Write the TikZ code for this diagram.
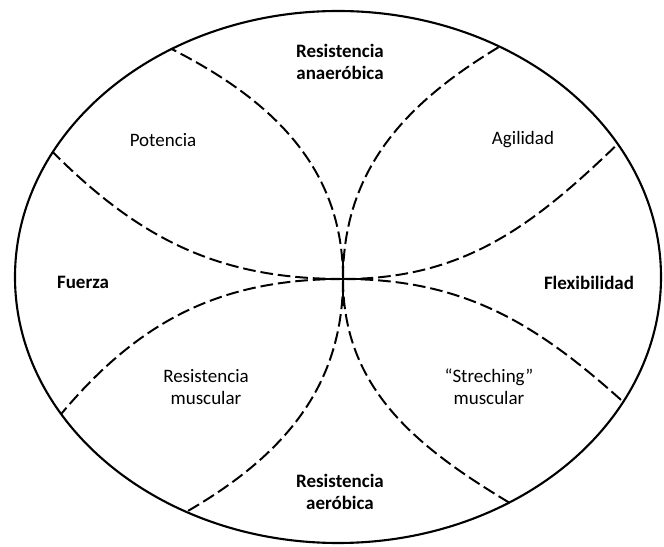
\documentclass[tikz,border=0pt]{standalone}
\usepackage{fontspec}
\setmainfont{Carlito}
\usetikzlibrary{calc}
\begin{document}
\begin{tikzpicture}[x=0.025cm, y=0.025cm,
  rim/.style={line width=1.5pt},
  divider/.style={line width=1.4pt, dash pattern=on 9pt off 3.5pt},
  lbl/.style={align=center, font=\fontsize{13.5}{15.5}\selectfont},
  blbl/.style={align=center, font=\fontsize{13.5}{15.5}\selectfont\bfseries}]
  \useasboundingbox (0,0) rectangle (664,546);

  % outer boundary and meeting point of the dividers
  \coordinate (o) at (338,269);
  \coordinate (c) at (343,267);
  \draw[rim] (o) ellipse [x radius=323, y radius=266];

  % points where the dividers meet the boundary
  \coordinate (tl) at ($(o)+(121:323 and 266)$);
  \coordinate (tr) at ($(o)+(60:323 and 266)$);
  \coordinate (lu) at ($(o)+(152:323 and 266)$);
  \coordinate (ll) at ($(o)+(211:323 and 266)$);
  \coordinate (ru) at ($(o)+(30:323 and 266)$);
  \coordinate (rl) at ($(o)+(-28:323 and 266)$);
  \coordinate (bl) at ($(o)+(242:323 and 266)$);
  \coordinate (br) at ($(o)+(-58:323 and 266)$);

  % dashed dividers
  \draw[divider] (c) to[out=90, in=-27] (tl);
  \draw[divider] (c) to[out=90, in=211] (tr);
  \draw[divider] (c) to[out=180, in=-45] (lu);
  \draw[divider] (c) to[out=180, in=50] (ll);
  \draw[divider] (c) to[out=0, in=224] (ru);
  \draw[divider] (c) to[out=0, in=138] (rl);
  \draw[divider] (c) to[out=-90, in=30] (bl);
  \draw[divider] (c) to[out=-90, in=149] (br);

  % solid cross at the centre
  \coordinate (hw) at (322,267);
  \coordinate (he) at (364,267);
  \coordinate (vn) at (343,288);
  \coordinate (vs) at (343,240);
  \draw[rim] (hw) -- (he);
  \draw[rim] (vn) -- (vs);

  % labels
  \node[blbl] (anaer) at (340,484) {Resistencia\\anaeróbica};
  \node[lbl]  (pot)   at (163,406) {Potencia};
  \node[lbl]  (agil)  at (523,406) {Agilidad};
  \node[blbl] (fue)   at (83,264)  {Fuerza};
  \node[blbl] (flex)  at (589,263) {Flexibilidad};
  \node[lbl]  (resm)  at (206,159) {Resistencia\\muscular};
  \node[lbl]  (stre)  at (489,159) {“Streching”\\muscular};
  \node[blbl] (aer)   at (340,54)  {Resistencia\\aeróbica};
\end{tikzpicture}
\end{document}
